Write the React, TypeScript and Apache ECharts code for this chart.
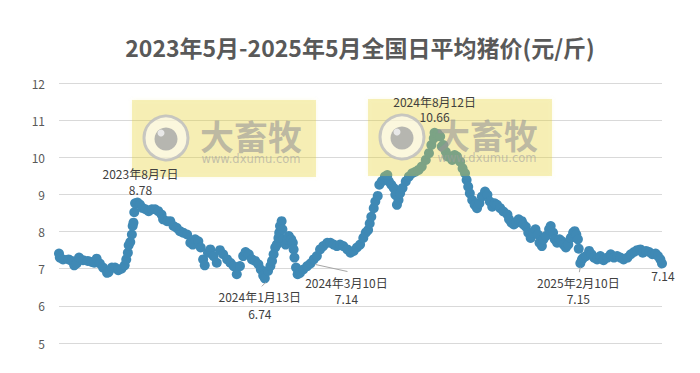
import React, { useEffect, useRef } from "react";
import * as echarts from "echarts";

const START_UTC = Date.UTC(2023, 4, 1); // 2023-05-01
const DAY_MS = 86400000;

const titleText = "2023年5月-2025年5月全国日平均猪价(元/斤)";

// day offset from 2023-05-01
const dayOffsets = [
  0, 1, 5, 12, 16, 19, 22, 25, 30, 36, 41, 44, 47, 51, 55, 60, 62, 66, 70, 74, 78, 82, 84, 86, 87, 89, 91, 92, 93, 94, 95,
  98, 101, 104, 108, 112, 116, 120, 124, 128, 130, 135, 139, 143, 147, 151, 155, 160, 164, 167, 170, 174, 177, 180, 182,
  186, 189, 193, 197, 201, 205, 210, 214, 218, 222, 226, 230, 233, 237, 241, 245, 249, 252, 255, 257, 261, 264, 266, 268,
  270, 272, 274, 275, 276, 278, 279, 280, 283, 285, 287, 290, 292, 293, 294, 296, 298, 301, 305, 310, 314, 318, 322, 326,
  330, 335, 339, 343, 347, 351, 355, 360, 364, 368, 372, 376, 380, 383, 386, 388, 390, 393, 395, 398, 400, 403, 407, 410,
  412, 415, 418, 420, 422, 424, 426, 429, 433, 437, 441, 445, 449, 453, 458, 462, 465, 468, 469, 473, 476, 478, 480, 483,
  485, 488, 491, 494, 497, 501, 504, 507, 509, 511, 513, 516, 519, 522, 525, 528, 532, 535, 538, 541, 544, 547, 551, 555,
  560, 562, 565, 568, 571, 574, 578, 580, 583, 586, 589, 592, 595, 598, 600, 603, 605, 608, 612, 614, 617, 619, 622, 625,
  628, 630, 633, 636, 639, 642, 644, 646, 648, 649, 651, 653, 655, 658, 662, 665, 668, 672, 676, 680, 685, 689, 693, 697,
  701, 705, 710, 714, 718, 722, 726, 729, 733, 737, 741, 745, 748, 751, 753,
];

// daily average pig price (元/斤)
const prices = [
  7.41, 7.3, 7.25, 7.25, 7.21, 7.09, 7.14, 7.3, 7.23, 7.21, 7.18, 7.16, 7.27, 7.14, 7.03, 6.89, 6.91, 7.03, 7.03, 6.96, 7.0,
  7.09, 7.25, 7.43, 7.63, 7.72, 7.92, 8.15, 8.24, 8.52, 8.76,
  8.78, 8.73, 8.64, 8.6, 8.55, 8.6, 8.6, 8.55, 8.46, 8.33, 8.28, 8.28, 8.15, 8.1, 8.01, 7.97, 7.92, 7.7, 7.65, 7.79, 7.74,
  7.57, 7.25, 7.09,
  7.43, 7.52, 7.34, 7.16, 7.5, 7.39, 7.25, 7.16, 7.07, 6.85, 7.07, 7.34, 7.45, 7.39, 7.25, 7.21, 7.12, 6.98, 6.82, 6.74,
  6.94, 7.07, 7.21, 7.39,
  7.57, 7.65, 7.83, 7.97, 8.15, 8.28, 8.06, 7.79, 7.65, 7.79, 7.88, 7.79, 7.7, 7.52, 7.3, 7.03, 6.85, 6.89, 6.98, 7.07,
  7.14, 7.25, 7.34, 7.52,
  7.61, 7.7, 7.7, 7.65, 7.61, 7.65, 7.61, 7.52, 7.43, 7.48, 7.57, 7.65, 7.83, 7.97, 8.04, 8.22, 8.4, 8.63, 8.81, 8.96, 9.26,
  9.35, 9.48, 9.52,
  9.35, 9.26, 9.17, 8.99, 8.72, 8.85, 9.03, 9.17, 9.35, 9.48, 9.57, 9.61, 9.66, 9.75, 9.93, 10.11, 10.33, 10.51, 10.66,
  10.63, 10.56, 10.29, 10.33, 10.15,
  10.02, 10.02, 9.93, 10.06, 10.02, 9.88, 9.7, 9.57, 9.39, 9.21, 9.03, 8.85, 8.72, 8.63, 8.76, 8.94, 9.08, 8.99, 8.81, 8.67,
  8.76, 8.72, 8.63, 8.54,
  8.46, 8.33, 8.24, 8.19, 8.24, 8.33, 8.28, 8.19, 8.13, 7.97, 7.83, 7.97, 8.06, 7.92, 7.7, 7.61, 7.79, 7.88, 8.06, 8.15,
  7.97, 7.79, 7.7, 7.79,
  7.74, 7.65, 7.57, 7.65, 7.83, 7.97, 8.01, 7.92, 7.79, 7.54, 7.15, 7.25, 7.3, 7.34, 7.48, 7.39, 7.3, 7.25, 7.34, 7.23,
  7.3, 7.39, 7.3, 7.34,
  7.3, 7.25, 7.3, 7.39, 7.45, 7.5, 7.52, 7.43, 7.48, 7.45, 7.39, 7.41, 7.34, 7.25, 7.14,
];

const yMin = 5;
const yMax = 12;
const yStep = 1;

// annotated points
const annotationDays = [98, 469, 257, 314, 651, 753];
const annotationDates = ["2023年8月7日", "2024年8月12日", "2024年1月13日", "2024年3月10日", "2025年2月10日", ""];
const annotationValues = [8.78, 10.66, 6.74, 7.14, 7.15, 7.14];

const watermarkBrand = "大畜牧";
const watermarkUrl = "www.dxumu.com";

const FONT = '"Noto Sans CJK SC", "Noto Sans", sans-serif';

// label layout (relative to the annotated point)
const annotationLayout: Array<{ dx: number; dateDy: number; valueDy: number; line: number[] | null }> = [
  { dx: 3, dateDy: -29, valueDy: -13, line: null },
  { dx: 0, dateDy: -31, valueDy: -16, line: null },
  { dx: -5, dateDy: 18, valueDy: 35, line: [-3, 8, 1, 4] },
  { dx: 36, dateDy: 19, valueDy: 35, line: [37, 8, 5, 1] },
  { dx: -2, dateDy: 19, valueDy: 35, line: [-1, 9, 0, 4] },
  { dx: 1, dateDy: 0, valueDy: 12, line: null },
];

function watermark(ox: number, oy: number): any[] {
  const z = 50;
  return [
    {
      type: "rect",
      z,
      shape: { x: ox, y: oy, width: 184, height: 77 },
      style: { fill: "rgba(228,210,50,0.3)", shadowBlur: 4, shadowColor: "rgba(228,210,50,0.3)" },
      silent: true,
    },
    {
      type: "circle",
      z: z + 1,
      shape: { cx: ox + 34, cy: oy + 38, r: 22 },
      style: { fill: "rgba(255,255,255,0.55)", stroke: "rgba(190,190,190,0.85)", lineWidth: 3 },
      silent: true,
    },
    {
      type: "circle",
      z: z + 2,
      shape: { cx: ox + 34, cy: oy + 39, r: 11.5 },
      style: { fill: "rgba(165,165,165,0.8)" },
      silent: true,
    },
    {
      type: "circle",
      z: z + 3,
      shape: { cx: ox + 29, cy: oy + 33, r: 3.5 },
      style: { fill: "rgba(235,235,235,0.95)" },
      silent: true,
    },
    {
      type: "text",
      z: z + 2,
      x: ox + 119,
      y: oy + 35,
      style: {
        text: watermarkBrand,
        fontSize: 34,
        fontWeight: "bold",
        fontFamily: FONT,
        fill: "rgba(150,150,150,0.6)",
        textAlign: "center",
        textVerticalAlign: "middle",
      },
      silent: true,
    },
    {
      type: "text",
      z: z + 2,
      x: ox + 119,
      y: oy + 59,
      style: {
        text: watermarkUrl,
        fontSize: 11.5,
        fontFamily: '"DejaVu Sans", sans-serif',
        fill: "rgba(160,160,160,0.6)",
        textAlign: "center",
        textVerticalAlign: "middle",
      },
      silent: true,
    },
  ];
}

export default function App() {
  const ref = useRef<HTMLDivElement>(null);

  useEffect(() => {
    if (!ref.current) return;
    const chart = echarts.init(ref.current, undefined, { renderer: "svg" });
    const seriesData = dayOffsets.map((d, i) => [START_UTC + d * DAY_MS, prices[i]]);

    chart.setOption({
      animation: false,
      backgroundColor: "#ffffff",
      title: {
        text: titleText,
        left: 355,
        top: 42,
        textAlign: "center",
        textVerticalAlign: "middle",
        textStyle: { fontSize: 23, fontWeight: "bold", color: "#595959", fontFamily: FONT },
      },
      grid: { left: 59, right: 38, top: 83, bottom: 30, containLabel: false },
      xAxis: {
        type: "time",
        min: "dataMin",
        max: "dataMax",
        show: false,
        splitLine: { show: false },
      },
      yAxis: {
        type: "value",
        min: yMin,
        max: yMax,
        interval: yStep,
        axisLine: { show: false },
        axisTick: { show: false },
        axisLabel: { color: "#595959", fontSize: 12, margin: 14, fontFamily: FONT },
        splitLine: { lineStyle: { color: "#d9d9d9", width: 1 } },
      },
      series: [
        {
          type: "scatter",
          data: seriesData,
          symbol: "circle",
          symbolSize: 10,
          itemStyle: { color: "#3f89b5", opacity: 1 },
          z: 2,
        },
      ],
    });

    const graphics: any[] = [];
    graphics.push(...watermark(132, 100));
    graphics.push(...watermark(368, 99));

    annotationDays.forEach((d, i) => {
      const p = chart.convertToPixel({ xAxisIndex: 0, yAxisIndex: 0 }, [START_UTC + d * DAY_MS, annotationValues[i]]);
      if (!p) return;
      const [px, py] = p as number[];
      const lay = annotationLayout[i];
      if (annotationDates[i]) {
        graphics.push({
          type: "text",
          z: 60,
          x: px + lay.dx,
          y: py + lay.dateDy,
          style: {
            text: annotationDates[i],
            fontSize: 12,
            fontFamily: FONT,
            fill: "#404040",
            textAlign: "center",
            textVerticalAlign: "middle",
          },
        });
      }
      graphics.push({
        type: "text",
        z: 60,
        x: px + lay.dx,
        y: py + lay.valueDy,
        style: {
          text: annotationValues[i].toFixed(2),
          fontSize: 12,
          fontFamily: FONT,
          fill: "#404040",
          textAlign: "center",
          textVerticalAlign: "middle",
        },
      });
      if (lay.line) {
        graphics.push({
          type: "line",
          z: 60,
          shape: { x1: px + lay.line[0], y1: py + lay.line[1], x2: px + lay.line[2], y2: py + lay.line[3] },
          style: { stroke: "#a6a6a6", lineWidth: 1 },
        });
      }
    });

    chart.setOption({ graphic: graphics });

    return () => chart.dispose();
  }, []);

  return (
    <div
      ref={ref}
      style={{ position: "fixed", left: 0, top: 0, width: 700, height: 373, background: "#fff" }}
    />
  );
}
